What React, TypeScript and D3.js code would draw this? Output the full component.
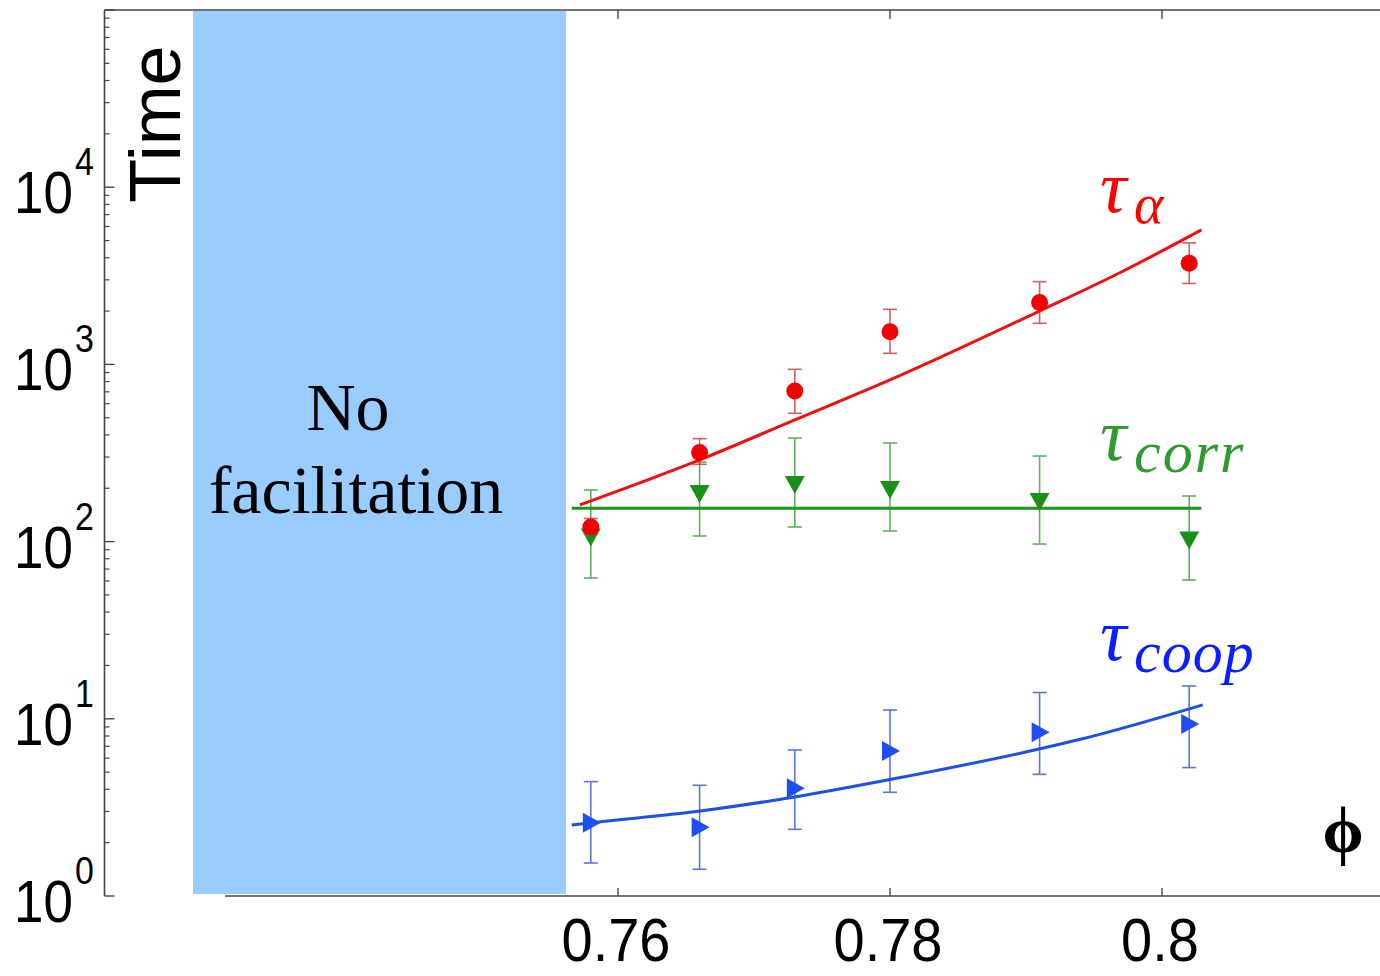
import React from 'react';
import * as d3 from 'd3';

// ---- data ----
const phi = [0.758, 0.766, 0.773, 0.78, 0.791, 0.802];

const tauAlpha = [121, 318, 708, 1530, 2233, 3724];
const tauAlphaLo = [110, 273, 530, 1155, 1706, 2862];
const tauAlphaHi = [135, 381, 938, 2046, 2932, 4849];

const tauCorr = [105.5, 185.6, 208.6, 195.5, 167.3, 101.5];
const tauCorrLo = [62.3, 107.6, 120.9, 114.8, 96.9, 60.7];
const tauCorrHi = [195.5, 281, 384, 360, 304, 180.8];

const tauCoop = [2.59, 2.44, 4.05, 6.58, 8.39, 9.35];
const tauCoopLo = [1.535, 1.415, 2.379, 3.848, 4.857, 5.305];
const tauCoopHi = [4.42, 4.215, 6.667, 11.21, 14.07, 15.31];

// fitted curves
const fitAlphaPhi = [0.7572, 0.766, 0.773, 0.78, 0.791, 0.7969, 0.8029];
const fitAlphaVal = [161, 289, 486, 817, 2001, 3289, 5742];
const fitCorrPhi = [0.7566, 0.8029];
const fitCorrVal = [154, 154];
const fitCoopPhi = [0.7566, 0.7581, 0.7662, 0.7731, 0.7801, 0.7912, 0.794, 0.803];
const fitCoopVal = [2.516, 2.593, 3.029, 3.634, 4.556, 6.816, 7.66, 11.99];

const noFacilitation = [0.72875, 0.75618];

const xTicks = [0.76, 0.78, 0.8];
const xTickLabels = ['0.76', '0.78', '0.8'];
const yMajor = [1, 10, 100, 1000, 10000];
const yExponents = ['0', '1', '2', '3', '4'];

const W = 1380;
const H = 976;

const AXIS = '#454545';
const SANS = '"Liberation Sans", Arial, sans-serif';
const SERIF = '"Liberation Serif", "Times New Roman", serif';

export default function App() {
  const x = d3.scaleLinear().domain([0.76, 0.8]).range([618, 1162]);
  const y = d3.scaleLog().domain([1, 1e5]).range([896, 10]);

  const yTop = y(1e5);
  const yBot = y(1);
  const axisX = 104.5;

  const minors: number[] = [];
  for (let k = 0; k < 5; k++) {
    for (let m = 2; m <= 9; m++) minors.push(m * Math.pow(10, k));
  }

  const line = d3
    .line<[number, number]>()
    .x((d) => x(d[0]))
    .y((d) => y(d[1]))
    .curve(d3.curveMonotoneX);

  const zip = (a: number[], b: number[]) => a.map((v, i) => [v, b[i]] as [number, number]);

  const errBars = (lo: number[], hi: number[], color: string, op: number) =>
    phi.map((p, i) => {
      const cx = x(p);
      return (
        <g key={i} stroke={color} strokeWidth={1.6} opacity={op} fill="none">
          <line x1={cx} x2={cx} y1={y(lo[i])} y2={y(hi[i])} />
          <line x1={cx - 7} x2={cx + 7} y1={y(lo[i])} y2={y(lo[i])} />
          <line x1={cx - 7} x2={cx + 7} y1={y(hi[i])} y2={y(hi[i])} />
        </g>
      );
    });

  const triDown = (w: number, h: number) => `M${-w / 2},${-h / 2}L${w / 2},${-h / 2}L0,${h / 2}Z`;
  const triRight = (w: number, h: number) => `M${-w / 2},${-h / 2}L${w / 2},0L${-w / 2},${h / 2}Z`;

  return (
    <svg
      width={W}
      height={H}
      viewBox={`0 0 ${W} ${H}`}
      style={{ position: 'absolute', left: 0, top: 0, background: '#fff' }}
    >
      <rect x={0} y={0} width={W} height={H} fill="#fff" />

      {/* axes frame */}
      <line x1={axisX} x2={axisX} y1={yTop} y2={yBot} stroke={AXIS} strokeWidth={1.6} />
      <line x1={axisX} x2={W} y1={yTop} y2={yTop} stroke={AXIS} strokeWidth={1.6} />
      <line x1={225} x2={W} y1={yBot} y2={yBot} stroke={AXIS} strokeWidth={1.6} />

      {/* y ticks */}
      {[...yMajor, 1e5].map((v) => (
        <line key={'M' + v} x1={axisX} x2={axisX + 10} y1={y(v)} y2={y(v)} stroke={AXIS} strokeWidth={1.4} />
      ))}
      {minors.map((v) => (
        <line key={'m' + v} x1={axisX} x2={axisX + 5} y1={y(v)} y2={y(v)} stroke={AXIS} strokeWidth={1.2} />
      ))}

      {/* x ticks */}
      {xTicks.map((t) => (
        <g key={t} stroke={AXIS} strokeWidth={1.4}>
          <line x1={x(t)} x2={x(t)} y1={yBot} y2={yBot - 8} />
          <line x1={x(t)} x2={x(t)} y1={yTop} y2={yTop + 9} />
        </g>
      ))}

      {/* y tick labels */}
      {yMajor.map((v, i) => (
        <g key={'yl' + v} fontFamily={SANS} fill="#000">
          <text transform={`translate(73, ${y(v) + 26}) scale(1, 1.12)`} fontSize={53} textAnchor="end">
            10
          </text>
          <text transform={`translate(75, ${y(v) - 12}) scale(1, 1.12)`} fontSize={34} textAnchor="start">
            {yExponents[i]}
          </text>
        </g>
      ))}

      {/* x tick labels */}
      {xTicks.map((t, i) => (
        <text
          key={'xl' + t}
          transform={`translate(${x(t) - 2}, 961) scale(1, 1.08)`}
          fontFamily={SANS}
          fontSize={56}
          textAnchor="middle"
          fill="#000"
        >
          {xTickLabels[i]}
        </text>
      ))}

      {/* y axis title */}
      <text
        transform="translate(180, 124) rotate(-90)"
        fontFamily={SANS}
        fontSize={72}
        textAnchor="middle"
        fill="#000"
      >
        Time
      </text>

      {/* no facilitation region */}
      <rect
        x={x(noFacilitation[0])}
        y={yTop + 1}
        width={x(noFacilitation[1]) - x(noFacilitation[0])}
        height={yBot - yTop - 3}
        fill="#99ccff"
      />
      <text x={348} y={430} fontFamily={SERIF} fontSize={68} textAnchor="middle" fill="#000">
        No
      </text>
      <text x={356} y={513} fontFamily={SERIF} fontSize={68} textAnchor="middle" fill="#000">
        facilitation
      </text>

      {/* tau_coop (blue) */}
      {errBars(tauCoopLo, tauCoopHi, '#3356c8', 0.8)}
      <path d={line(zip(fitCoopPhi, fitCoopVal)) || ''} fill="none" stroke="#1f4fe6" strokeWidth={3} />
      {phi.map((p, i) => (
        <path key={'b' + i} transform={`translate(${x(p) + 1}, ${y(tauCoop[i])})`} d={triRight(18, 20)} fill="#1f4ff2" />
      ))}

      {/* tau_corr (green) */}
      {errBars(tauCorrLo, tauCorrHi, '#3c9a3c', 0.8)}
      <path d={line(zip(fitCorrPhi, fitCorrVal)) || ''} fill="none" stroke="#1e961e" strokeWidth={3} />
      {phi.map((p, i) => (
        <path key={'g' + i} transform={`translate(${x(p)}, ${y(tauCorr[i])})`} d={triDown(20, 18)} fill="#1a8f1a" />
      ))}

      {/* tau_alpha (red) */}
      {errBars(tauAlphaLo, tauAlphaHi, '#c83a3a', 0.8)}
      <path d={line(zip(fitAlphaPhi, fitAlphaVal)) || ''} fill="none" stroke="#ee1111" strokeWidth={3} />
      {phi.map((p, i) => (
        <circle key={'r' + i} cx={x(p)} cy={y(tauAlpha[i])} r={8.5} fill="#f00000" />
      ))}

      {/* series labels */}
      <g fontFamily={SERIF} fontStyle="italic">
        <text x={1100} y={212} fontSize={74} fill="#ff0000">τ</text>
        <text x={1134} y={223} fontSize={56} fill="#ff0000">α</text>
        <text x={1100} y={460} fontSize={74} fill="#2f9a2f">τ</text>
        <text x={1134} y={472} fontSize={60} fill="#2f9a2f" letterSpacing={2}>corr</text>
        <text x={1100} y={660} fontSize={74} fill="#0a1eff">τ</text>
        <text x={1134} y={672} fontSize={60} fill="#0a1eff" letterSpacing={1}>coop</text>
      </g>

      {/* phi axis symbol */}
      <text x={1343} y={852} fontFamily={SERIF} fontSize={66} fontWeight="bold" textAnchor="middle" fill="#000">
        ϕ
      </text>
    </svg>
  );
}
